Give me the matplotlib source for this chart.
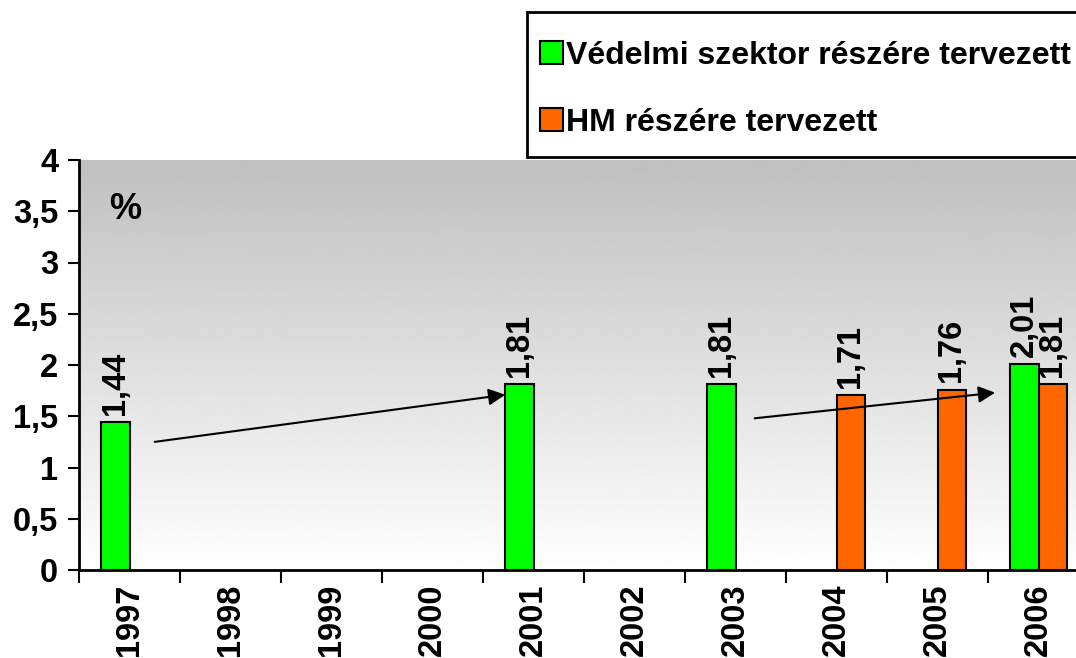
import numpy as np
import matplotlib.pyplot as plt
from matplotlib.patches import Patch, Rectangle

years = ["1997", "1998", "1999", "2000", "2001", "2002", "2003", "2004", "2005", "2006"]
vedelmi = [1.44, np.nan, np.nan, np.nan, 1.81, np.nan, 1.81, np.nan, np.nan, 2.01]
hm = [np.nan, np.nan, np.nan, np.nan, np.nan, np.nan, np.nan, 1.71, 1.76, 1.81]
labels = ["Védelmi szektor részére tervezett", "HM részére tervezett"]
y_ticks = [0, 0.5, 1, 1.5, 2, 2.5, 3, 3.5, 4]
y_labels = ["0", "0,5", "1", "1,5", "2", "2,5", "3", "3,5", "4"]

# trend arrows (start x, start y, end x, end y) in data units
arrows = [(0.25, 1.25, 3.72, 1.71), (6.19, 1.48, 8.57, 1.73)]

GREEN = "#00ff00"
ORANGE = "#ff6600"

plt.rcParams["font.family"] = ["Liberation Sans", "DejaVu Sans"]
plt.rcParams["font.weight"] = "bold"
FS = 23.5
W, H = 1076, 658

fig = plt.figure(figsize=(W / 100, H / 100), dpi=100)
ax = fig.add_axes([79 / W, 88 / H, 1010 / W, 410 / H])

x = np.arange(len(years))
w = 0.285

# gradient background: grey at the top, white at the bottom
grad = np.linspace(0.75, 1.0, 256).reshape(-1, 1)
ax.imshow(grad, cmap="gray", vmin=0, vmax=1, aspect="auto", origin="upper",
          extent=[-0.5, len(years) - 0.5, 0, 4], zorder=0)

b1 = ax.bar(x - w / 2, vedelmi, w, color=GREEN, edgecolor="black", linewidth=1.5, zorder=2)
b2 = ax.bar(x + w / 2, hm, w, color=ORANGE, edgecolor="black", linewidth=1.5, zorder=2)

for bars, vals in ((b1, vedelmi), (b2, hm)):
    for rect, v in zip(bars, vals):
        if np.isnan(v):
            continue
        ax.text(rect.get_x() + rect.get_width() / 2, v + 0.07, f"{v:.2f}".replace(".", ","),
                rotation=90, ha="center", va="bottom", fontsize=FS, fontweight="bold", zorder=3)

for x0, y0, x1, y1 in arrows:
    ax.annotate("", xy=(x1, y1), xytext=(x0, y0),
                arrowprops=dict(arrowstyle="-|>", color="black", lw=1.5,
                                mutation_scale=25, shrinkA=0, shrinkB=0), zorder=4)

ax.text(-0.04, 3.52, "%", fontsize=26, fontweight="bold", ha="center", va="center")

ax.set_xlim(-0.5, len(years) - 0.5)
ax.set_ylim(0, 4)
ax.set_yticks(y_ticks)
ax.set_yticklabels(y_labels, fontsize=FS, fontweight="bold")
ax.set_xticks(np.arange(len(years) + 1) - 0.5)
ax.set_xticklabels([])
ax.set_xticks(x, minor=True)
ax.set_xticklabels(years, minor=True, rotation=90, fontsize=FS, fontweight="bold")
ax.tick_params(axis="x", which="major", direction="out", length=9, width=1.5)
ax.tick_params(axis="x", which="minor", length=0, pad=10)
ax.tick_params(axis="y", direction="out", length=8, width=1.5, pad=7)

for s in ("top", "right"):
    ax.spines[s].set_visible(False)
for s in ("left", "bottom"):
    ax.spines[s].set_linewidth(2)

# legend box runs off the right edge, as in the original
fig.patches.append(Rectangle((527 / W, 1 - 157 / H), 600 / W, 145 / H, transform=fig.transFigure,
                             facecolor="white", edgecolor="black", linewidth=2, zorder=5))
handles = [Patch(facecolor=GREEN, edgecolor="black", linewidth=1.5),
           Patch(facecolor=ORANGE, edgecolor="black", linewidth=1.5)]
leg = fig.legend(handles, labels, loc="upper left", bbox_to_anchor=(540 / W, 1 - 41 / H),
                 prop={"weight": "bold", "size": 23}, frameon=False,
                 handlelength=0.72, handleheight=0.72, handletextpad=0.1, labelspacing=1.15,
                 borderpad=0, borderaxespad=0)
leg.set_zorder(6)

fig.savefig("out.png", dpi=100)
